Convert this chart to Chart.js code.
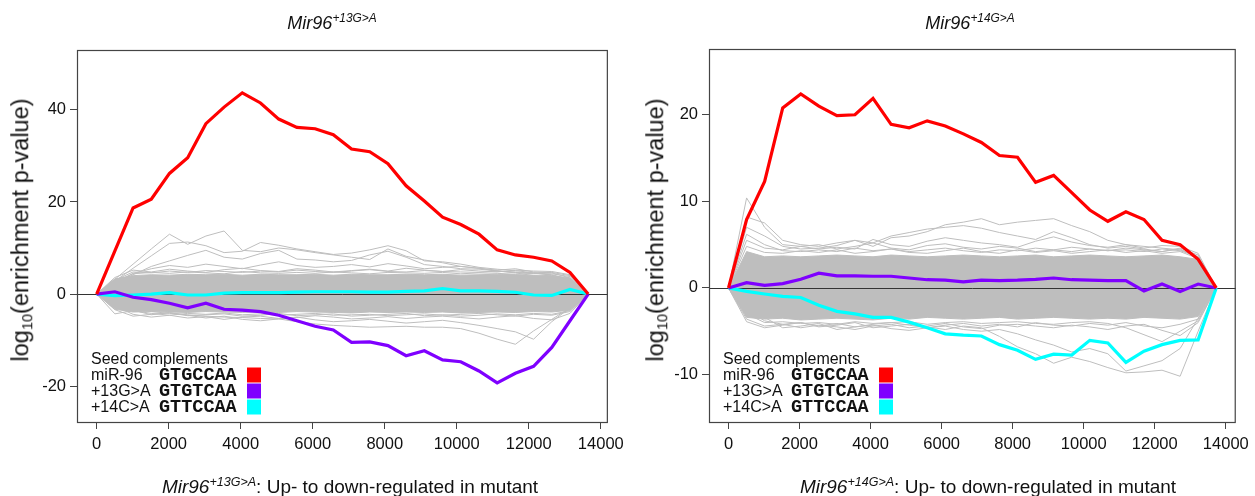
<!DOCTYPE html>
<html>
<head>
<meta charset="utf-8">
<script src="https://cdn.jsdelivr.net/npm/chart.js@4.4.1/dist/chart.umd.min.js"></script>
<style>
  body { margin: 0; background: #fff; width: 1255px; height: 496px; position: relative; overflow: hidden;
         font-family: "Liberation Sans", Arial, sans-serif; color: #111; }
  canvas { position: absolute; top: 0; }
  .txt { position: absolute; white-space: nowrap; transform: translate(-50%, -50%); line-height: 1; }
  .ttl { font-size: 18px; font-style: italic; }
  .xt { font-size: 19px; }
  .yt { font-size: 23.5px; transform: translate(-50%, -50%) rotate(-90deg); }
  .sup { font-size: .66em; font-style: italic; position: relative; top: -.55em; }
  .sub { font-size: .62em; position: relative; top: .3em; }
  .lg { position: absolute; white-space: nowrap; transform: translateY(-50%); line-height: 1; font-size: 16px; }
  .seq { font-family: "Liberation Mono", "Courier New", monospace; font-weight: bold; font-size: 18.5px; }
  .sw { position: absolute; width: 14px; height: 15px; transform: translateY(-50%); }
</style>
</head>
<body>
<canvas id="left" width="630" height="496" style="left:0"></canvas>
<canvas id="right" width="625" height="496" style="left:630px"></canvas>

<div class="txt ttl" style="left:332px; top:23px">Mir96<span class="sup">+13G&gt;A</span></div>
<div class="txt ttl" style="left:970px; top:23px">Mir96<span class="sup">+14G&gt;A</span></div>
<div class="txt xt" style="left:350px; top:486px"><i>Mir96</i><span class="sup">+13G&gt;A</span>: Up- to down-regulated in mutant</div>
<div class="txt xt" style="left:988px; top:486px"><i>Mir96</i><span class="sup">+14G&gt;A</span>: Up- to down-regulated in mutant</div>
<div class="txt yt" style="left:21px; top:230px">log<span class="sub">10</span>(enrichment p-value)</div>
<div class="txt yt" style="left:656px; top:230px">log<span class="sub">10</span>(enrichment p-value)</div>
<div id="legends"></div>

<script>
// x positions (genes ranked from up- to down-regulated)
const xLeft = [0, 506, 1011, 1517, 2022, 2528, 3033, 3539, 4044, 4550, 5056, 5561, 6067, 6572,
  7078, 7583, 8089, 8594, 9100, 9606, 10111, 10617, 11122, 11628, 12133, 12639, 13144, 13650];
const xRight = [0, 509, 1017, 1526, 2034, 2543, 3051, 3560, 4068, 4577, 5085, 5594, 6102, 6611,
  7119, 7628, 8136, 8645, 9153, 9662, 10170, 10679, 11187, 11696, 12204, 12713, 13221, 13730];

const xTicks = [0, 2000, 4000, 6000, 8000, 10000, 12000, 14000];
const yTicksLeft = [-20, 0, 20, 40];
const yTicksRight = [-10, 0, 10, 20];

// Mir96 +13G>A panel
const redLeft = [0, 9.4, 18.7, 20.6, 26.2, 29.6, 37.0, 40.6, 43.7, 41.5, 38.0, 36.2, 35.9, 34.6,
  31.5, 30.9, 28.3, 23.5, 20.2, 16.7, 15.1, 13.0, 9.6, 8.5, 8.0, 7.2, 4.7, 0];
const purpleLeft = [0, 0.5, -0.7, -1.2, -2.0, -3.0, -2.0, -3.3, -3.5, -3.8, -4.6, -5.8, -7.0, -7.8,
  -10.5, -10.4, -11.2, -13.4, -12.3, -14.3, -14.7, -16.7, -19.3, -17.2, -15.7, -11.6, -5.8, 0];
const cyanLeft = [0, -0.35, -0.2, 0.0, 0.3, -0.2, -0.2, 0.2, 0.3, 0.3, 0.3, 0.4, 0.5, 0.5,
  0.5, 0.4, 0.4, 0.6, 0.7, 1.2, 0.7, 0.7, 0.6, 0.4, -0.2, -0.3, 1.0, 0];
const bandTopLeft = [0, 3.3, 4.0, 4.2, 4.1, 4.3, 4.2, 4.3, 4.1, 4.3, 4.2, 4.2, 4.3, 4.1,
  4.3, 4.2, 4.2, 4.3, 4.2, 4.3, 4.1, 4.2, 4.3, 4.2, 4.1, 4.0, 3.5, 0];
const bandBotLeft = [0, -3.3, -3.9, -3.8, -3.9, -4.0, -3.8, -3.9, -4.0, -3.9, -4.0, -3.8, -3.9, -4.0,
  -4.1, -3.9, -4.0, -3.9, -4.0, -3.9, -4.1, -4.0, -3.9, -4.0, -3.8, -3.9, -3.5, 0];
const greyLeft = [
  [0, 3.2, 6.5, 9.8, 13.0, 10.8, 12.6, 13.7, 9.5, 9.2, 10.0, 9.6, 9.0, 8.5, 8.0, 7.5, 9.8, 8.2, 7.4, 6.8, 6.0, 5.6, 5.0, 4.6, 4.0, 3.5, 2.6, 0],
  [0, 2.8, 5.6, 8.3, 11.0, 11.3, 10.5, 9.0, 9.3, 11.2, 10.6, 9.8, 9.2, 8.6, 8.9, 9.6, 10.5, 9.4, 7.2, 7.0, 6.5, 5.8, 5.4, 5.1, 4.6, 4.1, 3.0, 0],
  [0, 2.0, 4.2, 6.0, 7.2, 8.4, 9.5, 8.0, 7.6, 8.8, 9.5, 7.6, 7.4, 7.0, 7.3, 8.5, 9.3, 8.0, 6.4, 6.0, 5.5, 5.4, 5.0, 4.7, 4.5, 4.2, 3.2, 0],
  [0, 2.5, 4.5, 5.5, 6.2, 5.8, 6.5, 6.0, 5.5, 6.3, 7.0, 6.2, 5.8, 6.0, 6.4, 5.9, 6.6, 6.1, 5.5, 5.8, 6.0, 5.6, 5.2, 5.5, 4.8, 4.6, 3.5, 0],
  [0, 3.6, 5.2, 4.8, 5.4, 5.0, 4.7, 5.3, 5.6, 5.1, 4.9, 5.5, 5.2, 4.8, 5.1, 5.4, 5.0, 5.6, 5.2, 4.9, 5.3, 5.0, 4.8, 5.2, 5.0, 4.9, 4.2, 0],
  [0, -1.8, -3.0, -3.8, -4.2, -4.5, -4.8, -5.0, -5.1, -5.3, -5.4, -6.0, -6.5, -6.8, -7.0, -7.2, -7.1, -7.0, -7.2, -7.2, -7.5, -8.5, -9.8, -10.9, -8.0, -5.5, -3.0, 0],
  [0, -2.0, -3.5, -4.5, -4.0, -4.6, -5.2, -4.8, -5.5, -5.8, -5.4, -5.0, -5.6, -6.0, -5.8, -5.5, -5.9, -6.3, -6.0, -5.7, -6.2, -6.8, -7.5, -8.2, -9.8, -6.0, -3.0, 0],
  [0, -2.6, -4.4, -5.0, -4.6, -5.2, -4.9, -5.5, -5.0, -4.8, -5.3, -5.1, -4.7, -5.0, -5.4, -5.2, -4.9, -5.3, -5.0, -4.8, -5.1, -5.4, -5.0, -4.7, -5.3, -5.6, -4.2, 0],
  [0, -4.3, -3.6, -4.2, -4.6, -4.2, -4.4, -4.1, -4.5, -4.3, -4.6, -4.4, -4.2, -4.6, -4.5, -4.4, -4.7, -4.5, -4.3, -4.6, -4.4, -4.2, -4.5, -4.8, -4.4, -4.6, -3.8, 0],
  [0, -3.4, -4.8, -4.4, -4.1, -4.7, -4.5, -4.3, -4.8, -4.6, -4.2, -4.7, -4.5, -4.3, -4.8, -4.6, -4.4, -4.2, -4.7, -4.5, -4.8, -4.6, -4.3, -4.5, -4.2, -4.4, -3.6, 0],
  [0, 3.0, 4.8, 4.6, 5.0, 4.7, 5.1, 4.9, 4.7, 5.0, 4.8, 5.2, 4.9, 4.7, 5.0, 5.3, 4.9, 4.8, 5.1, 4.9, 4.8, 4.7, 5.0, 4.8, 4.6, 4.7, 4.0, 0],
  [0, 2.6, 4.4, 4.7, 4.5, 4.8, 4.6, 4.4, 4.9, 4.6, 4.5, 4.7, 4.5, 4.8, 4.6, 4.4, 4.7, 4.6, 4.5, 4.7, 4.4, 4.6, 4.5, 4.3, 4.5, 4.4, 3.8, 0]
];

// Mir96 +14G>A panel
const redRight = [0, 7.9, 12.3, 20.8, 22.4, 21.0, 19.9, 20.0, 21.9, 18.9, 18.5, 19.3, 18.7, 17.8,
  16.8, 15.3, 15.1, 12.2, 13.0, 11.0, 9.0, 7.7, 8.8, 7.9, 5.5, 5.0, 3.3, 0];
const purpleRight = [0, 0.6, 0.3, 0.5, 1.0, 1.7, 1.4, 1.4, 1.35, 1.35, 1.15, 0.95, 0.9, 0.7,
  0.9, 0.85, 0.9, 1.0, 1.15, 0.95, 0.9, 0.85, 0.85, -0.35, 0.45, -0.4, 0.45, 0];
const cyanRight = [0, -0.4, -0.7, -0.97, -1.1, -2.0, -2.7, -3.0, -3.4, -3.4, -3.95, -4.6, -5.3, -5.45,
  -5.55, -6.55, -7.2, -8.25, -7.65, -7.75, -6.05, -6.35, -8.6, -7.3, -6.55, -6.05, -6.0, 0];
const bandTopRight = [0, 4.2, 3.6, 3.7, 3.6, 3.7, 3.8, 3.7, 3.6, 3.8, 3.7, 3.6, 3.7, 3.8,
  3.7, 3.6, 3.7, 3.8, 3.6, 3.7, 3.8, 3.7, 3.6, 3.7, 3.8, 3.6, 3.3, 0];
const bandBotRight = [0, -3.4, -3.6, -3.5, -3.7, -3.6, -3.5, -3.6, -3.7, -3.5, -3.6, -3.4, -3.5, -3.6,
  -3.5, -3.4, -3.6, -3.5, -3.4, -3.5, -3.6, -3.5, -3.6, -3.4, -3.5, -3.6, -3.3, 0];
const greyRight = [
  [0, 10.4, 7.0, 5.0, 4.8, 5.0, 4.5, 4.8, 5.2, 4.6, 4.4, 4.9, 5.1, 4.7, 4.5, 4.8, 4.6, 4.2, 4.4, 4.7, 4.5, 4.3, 4.6, 4.4, 4.2, 4.5, 3.5, 0],
  [0, 8.2, 7.5, 5.5, 5.0, 4.8, 5.2, 5.5, 4.8, 5.8, 6.0, 6.5, 7.3, 7.6, 8.0, 7.3, 7.6, 7.8, 8.0, 7.2, 6.5, 5.5, 5.0, 4.8, 4.6, 4.4, 3.6, 0],
  [0, 7.0, 6.0, 4.8, 4.5, 4.6, 4.9, 5.5, 5.2, 6.0, 6.4, 6.8, 7.0, 7.2, 6.9, 6.4, 6.0, 5.6, 6.5, 5.8, 5.0, 4.6, 4.8, 4.5, 4.2, 4.6, 3.8, 0],
  [0, 5.5, 4.6, 4.4, 4.8, 4.5, 4.7, 4.5, 5.6, 5.0, 4.8, 5.4, 5.8, 5.5, 5.2, 5.0, 4.7, 5.4, 5.9, 5.3, 4.9, 4.7, 5.0, 4.6, 4.9, 4.8, 4.0, 0],
  [0, 6.2, 5.0, 4.3, 4.2, 4.4, 4.2, 4.6, 4.3, 4.5, 4.2, 4.4, 4.6, 4.3, 4.1, 4.4, 4.3, 4.6, 4.4, 4.2, 4.5, 4.3, 4.4, 4.2, 4.5, 4.3, 3.6, 0],
  [0, 4.8, 4.1, 4.0, 4.3, 4.1, 4.4, 4.0, 4.2, 4.5, 4.1, 4.0, 4.3, 4.6, 4.2, 4.0, 4.4, 4.1, 4.3, 4.0, 4.2, 4.4, 4.1, 4.3, 4.0, 4.2, 3.4, 0],
  [0, -2.5, -3.8, -4.2, -4.0, -4.5, -4.3, -4.0, -4.6, -4.4, -4.2, -4.5, -4.8, -4.4, -4.6, -5.6, -6.8, -7.6, -8.7, -8.0, -8.5, -9.2, -9.8, -9.7, -9.5, -10.2, -5.0, 0],
  [0, -2.2, -3.4, -4.6, -4.4, -4.1, -4.8, -4.5, -4.3, -4.7, -4.9, -4.6, -4.4, -4.8, -5.0, -4.8, -5.3, -6.0, -6.6, -7.4, -7.0, -7.6, -9.6, -9.0, -8.4, -7.0, -3.5, 0],
  [0, -3.6, -4.4, -4.2, -4.6, -4.3, -4.5, -4.8, -4.4, -4.2, -4.6, -4.4, -4.1, -4.5, -4.7, -4.3, -4.2, -4.4, -4.6, -4.3, -4.5, -4.8, -4.4, -4.2, -4.9, -5.5, -4.0, 0],
  [0, -3.0, -4.0, -3.9, -4.1, -4.0, -4.2, -3.9, -4.1, -4.0, -3.9, -4.2, -4.0, -3.9, -4.1, -4.0, -3.9, -4.1, -4.2, -4.0, -3.9, -4.1, -4.6, -5.4, -6.2, -5.0, -3.8, 0],
  [0, -3.9, -4.6, -4.3, -4.0, -4.4, -4.1, -4.5, -4.2, -4.0, -4.3, -4.6, -4.3, -4.1, -4.4, -4.2, -4.5, -4.0, -4.3, -4.4, -4.1, -4.3, -4.0, -4.4, -4.6, -4.2, -3.6, 0]
];

const seedNames = ["miR-96", "+13G>A", "+14C>A"];
const seedSeqs = ["GTGCCAA", "GTGTCAA", "GTTCCAA"];
const seedColors = ["#ff0000", "#7f00ff", "#00ffff"];
const GREY = "#bebebe";

function series(xs, ys, color, width, extra) {
  return Object.assign({
    data: xs.map((x, i) => ({ x: x, y: ys[i] })),
    borderColor: color, borderWidth: width, pointRadius: 0, tension: 0, fill: false
  }, extra || {});
}

// zero line drawn over the grey lines, under the seed lines
const zeroLine = {
  id: "zeroLine",
  beforeDatasetDraw(chart, args) {
    if (args.index !== 2) return;
    const { ctx, chartArea } = chart;
    const y = Math.round(chart.scales.y.getPixelForValue(0)) + 0.5;
    ctx.save();
    ctx.strokeStyle = "#333";
    ctx.lineWidth = 1;
    ctx.beginPath();
    ctx.moveTo(chartArea.left, y);
    ctx.lineTo(chartArea.right, y);
    ctx.stroke();
    ctx.restore();
  }
};

const frame = {
  id: "frame",
  afterDraw(chart) {
    const { ctx, chartArea } = chart;
    ctx.save();
    ctx.strokeStyle = "#444";
    ctx.lineWidth = 1.2;
    ctx.strokeRect(chartArea.left + 0.5, chartArea.top + 0.5,
      chartArea.right - chartArea.left - 1, chartArea.bottom - chartArea.top - 1);
    ctx.restore();
  }
};

function makePanel(id, xs, red, purple, cyan, greys, bandTop, bandBot, yMin, yMax, yTicks, xMax, pad) {
  const datasets = [
    series(xs, red, seedColors[0], 3.2),
    series(xs, purple, seedColors[1], 3.2),
    series(xs, cyan, seedColors[2], 3.2)
  ];
  greys.forEach(g => datasets.push(series(xs, g, GREY, 1)));
  datasets.push(series(xs, bandTop, GREY, 1, { fill: "+1", backgroundColor: GREY }));
  datasets.push(series(xs, bandBot, GREY, 1));

  const tickFont = { family: "Liberation Sans", size: 16.5 };
  new Chart(document.getElementById(id), {
    type: "line",
    data: { datasets: datasets },
    options: {
      responsive: false,
      animation: false,
      events: [],
      layout: { padding: pad },
      plugins: { legend: { display: false }, tooltip: { enabled: false } },
      scales: {
        x: {
          type: "linear",
          min: -0.04 * xMax,
          max: 1.04 * xMax,
          afterFit: s => { s.height = 73; },
          afterBuildTicks: s => { s.ticks = xTicks.map(v => ({ value: v })); },
          grid: { drawOnChartArea: false, tickLength: 6, color: "#444" },
          border: { display: false },
          ticks: { font: tickFont, color: "#111", padding: 6, maxRotation: 0, autoSkip: false,
                   callback: v => String(v) }
        },
        y: {
          min: yMin,
          max: yMax,
          afterFit: s => { s.width = pad.axis; },
          afterBuildTicks: s => { s.ticks = yTicks.map(v => ({ value: v })); },
          grid: { drawOnChartArea: false, tickLength: 7, color: "#444" },
          border: { display: false },
          ticks: { font: tickFont, color: "#111", padding: 4, callback: v => String(v) }
        }
      }
    },
    plugins: [zeroLine, frame]
  });
}

makePanel("left", xLeft, redLeft, purpleLeft, cyanLeft, greyLeft, bandTopLeft, bandBotLeft,
  -28, 53, yTicksLeft, 13650, { left: 0, top: 50, right: 20, bottom: 0, axis: 77 });
makePanel("right", xRight, redRight, purpleRight, cyanRight, greyRight, bandTopRight, bandBotRight,
  -15.6, 27.6, yTicksRight, 13730, { left: 0, top: 49, right: 13, bottom: 0, axis: 79 });

// seed complement legends, inside each panel's lower-left corner
function drawLegend(boxLeft) {
  const holder = document.getElementById("legends");
  const rowY = [359, 375, 391, 407];
  let html = `<div class="lg" style="left:${boxLeft + 14}px; top:${rowY[0]}px">Seed complements</div>`;
  seedNames.forEach((name, i) => {
    const y = rowY[i + 1];
    html += `<div class="lg" style="left:${boxLeft + 14}px; top:${y}px">${name.replace(">", "&gt;")}</div>`;
    html += `<div class="lg seq" style="left:${boxLeft + 82}px; top:${y + 1}px">${seedSeqs[i]}</div>`;
    html += `<div class="sw" style="left:${boxLeft + 170}px; top:${y}px; background:${seedColors[i]}"></div>`;
  });
  holder.insertAdjacentHTML("beforeend", html);
}
drawLegend(77);
drawLegend(709);
</script>
</body>
</html>
